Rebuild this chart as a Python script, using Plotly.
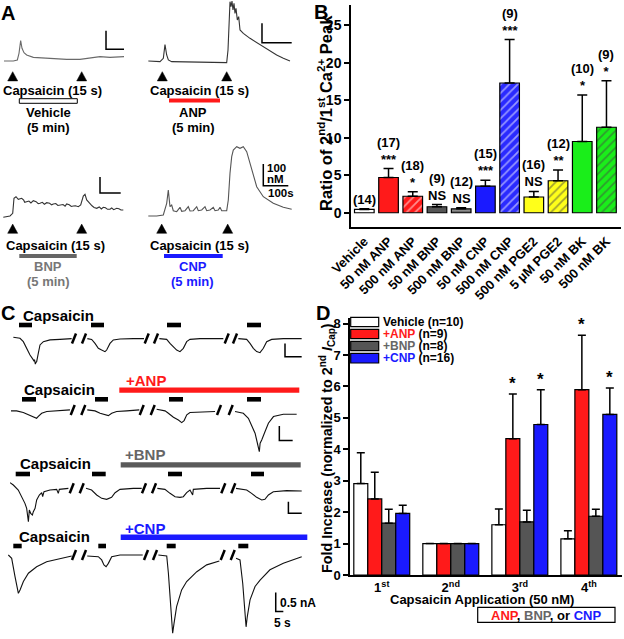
import plotly.graph_objects as go

W, H = 624, 639
FONT = "Arial, 'Liberation Sans', Helvetica, sans-serif"

# ---------------- Panel B data ----------------
b_labels = ["Vehicle", "50 nM ANP", "500 nM ANP", "50 nM BNP", "500 nM BNP", "50 nM CNP",
            "500 nM CNP", "500 nM PGE2", "5 µM PGE2", "50 nM BK", "500 nM BK"]
b_vals = [0.44, 4.7, 2.2, 0.8, 0.53, 3.55, 17.3, 2.1, 4.27, 9.5, 11.4]
b_err = [0.08, 1.2, 0.6, 0.3, 0.14, 0.8, 5.8, 0.75, 1.43, 6.2, 6.2]
b_n = ["(14)", "(17)", "(18)", "(9)", "(12)", "(15)", "(9)", "(16)", "(12)", "(10)", "(9)"]
b_sig = ["", "***", "*", "NS", "NS", "***", "***", "NS", "**", "*", "*"]
b_colors = ["#ffffff", "#ff1a1a", "#ff1a1a", "#555555", "#8c8c8c", "#1a1aff",
            "#2a2aff", "#ffff1a", "#ffff1a", "#1aee1a", "#1aee1a"]
b_hatch = ["", "", "/", "", "-", "", "/", "", "/", "", "/"]
b_hatch_col = ["#000000", "#000000", "#400000", "#000000", "#e6e6e6", "#000000",
               "#ffffff", "#000000", "#303000", "#000000", "#104010"]

# ---------------- Panel D data ----------------
d_ticks = ["1<sup>st</sup>", "2<sup>nd</sup>", "3<sup>rd</sup>", "4<sup>th</sup>"]
d_names = ["Vehicle", "+ANP", "+BNP", "+CNP"]
d_ns = ["(n=10)", "(n=9)", "(n=8)", "(n=16)"]
d_colors = ["#ffffff", "#ff1a1a", "#555555", "#1a1aff"]
d_vehicle = [2.91, 1.0, 1.60, 1.15]
d_vehicle_err = [0.98, 0.0, 0.50, 0.26]
d_anp = [2.42, 1.0, 4.34, 5.90]
d_anp_err = [0.85, 0.0, 1.42, 1.73]
d_bnp = [1.65, 1.0, 1.69, 1.87]
d_bnp_err = [0.44, 0.0, 0.37, 0.22]
d_cnp = [1.96, 1.0, 4.79, 5.11]
d_cnp_err = [0.26, 0.0, 1.11, 0.84]
d_star_anp = ["", "", "*", "*"]
d_star_cnp = ["", "", "*", "*"]

# ---------------- Panel A Ca2+ traces (time s, [Ca2+] nM) ----------------
a_veh_t = [0, 51.9, 74.1, 83.3, 92.6, 100, 111.1, 125.9, 163, 255.6, 348.1, 422.2, 496.3, 533.3, 588.9, 666.7]
a_veh_y = [100, 100, 105.4, 141.2, 209.4, 168.2, 144.9, 132.3, 119.7, 112.6, 109, 109, 119.7, 123.3, 119.7, 123.3]
a_anp_t = [1.1, 40.4, 51.6, 57.2, 62.9, 68.5, 79.7, 130.2, 197.5, 264.9, 269.4, 273.8, 276.1, 279.5, 282.8,
           286.2, 289.6, 292.9, 296.3, 300.8, 305.3, 309.8, 321, 343.4, 365.9, 388.3, 410.8, 433.2, 455.7, 478.1]
a_anp_y = [100, 96.6, 113.7, 184.1, 130.9, 105.2, 96.6, 94.8, 93.1, 91.4, 156.7, 311.2, 405.6, 379.9, 409.1,
           362.7, 397, 345.5, 371.3, 311.2, 328.4, 259.7, 242.5, 216.8, 194.4, 173.8, 153.2, 130.9, 113.7, 100]
a_bnp_t = [1.4, 33.8, 46.9, 53.1, 62.8, 73.9, 90.3, 100, 105, 114.5, 125, 135, 146.4, 160, 170, 178.7, 190, 200,
           211.1, 225, 235, 243, 255, 265, 275.4, 290, 300, 307.7, 320, 330, 339.6, 350, 363.8, 375.4, 387.9,
           396.1, 404.3, 420.3, 430, 440, 452.7, 465, 475, 484.5, 495, 505, 516.9, 525, 535, 549.3, 560, 570, 581.2]
a_bnp_y = [98.1, 106.3, 123.1, 216.9, 226.9, 210.6, 216.9, 205, 192, 195.6, 200, 188, 201.9, 196, 183, 185.6,
           192, 180, 189.4, 186, 176, 181.3, 184, 172, 175, 178, 168, 181.3, 176, 166, 168.8, 170, 164.4, 175,
           231.3, 241.9, 206.3, 181.3, 170, 160, 154.4, 163, 150, 160.6, 158, 148, 148.1, 156, 146, 154.4, 152, 144, 143.8]
a_cnp_t = [1.2, 34.8, 61.2, 68, 74.8, 81.2, 88, 94.8, 101.2, 114.8, 128, 134.8, 148, 161.2, 168, 181.2, 194.8,
           201.2, 214.8, 228, 234.8, 248, 261.2, 268, 281.2, 288, 294.8, 314.8, 321.2, 328, 334.8, 341.2, 354.8,
           368, 381.2, 394.8, 408, 421.2, 434.8, 461.2, 501.2, 541.2, 574.8]
a_cnp_y = [100, 100, 104.6, 127.7, 158.5, 219.9, 142.9, 150.7, 124.4, 119.8, 140.1, 121.7, 124.4, 142.9, 123.1,
           124.4, 142.9, 124.4, 127.7, 142.9, 124.4, 127.7, 140.1, 124.4, 127.7, 140.1, 124.4, 124.4, 173.8,
           296.8, 373.4, 404.3, 419.5, 412.1, 419.5, 396.4, 343, 281.2, 235.1, 189, 158.5, 140.1, 130.9]

# ---------------- Panel C current traces (time s, current nA) ----------------
N = None
c_veh_t = [0, 2, 3, 4, 5, 6, 6.2, 6.35, 6.5, 6.6, 6.8, 7, 7.5, 8, 9, 11, 14, 17.5, N,
           22.2, 23.5, 24.5, 25.5, 26.5, 27.5, 28, 29, 30, 32, 36, 39.2, N,
           43.8, 46, 47, 48, 49, 50, 51, 52, 53, 56, 60, 63, N,
           67.5, 70, 71, 72, 73, 74, 75, 76, 77.5, 81, 86.5]
c_veh_i = [0.04, 0, -0.125, -0.375, -0.625, -0.81, -0.86, -0.80, -0.94, -0.97, -0.90, -0.875, -0.56, -0.25, -0.125, -0.06, -0.04, -0.01, N,
           -0.01, -0.04, -0.19, -0.375, -0.44, -0.5, -0.44, -0.19, -0.06, -0.025, -0.01, -0.01, N,
           -0.01, -0.04, -0.19, -0.31, -0.44, -0.5, -0.375, -0.125, -0.04, -0.01, -0.01, -0.01, N,
           -0.01, -0.04, -0.19, -0.375, -0.5, -0.54, -0.375, -0.125, -0.04, -0.01, -0.01]
c_anp_t = [0, 2.1, 4.6, 6.5, 8.4, 9.6, 10.25, 11.5, 13.4, 17.1, 22.1, N,
           28.6, 31.5, 33.4, 35.25, 36.5, 37.75, 39.6, 43.4, 48.1, N,
           54.6, 57.75, 59, 60.9, 62.75, 64, 64.9, 65.9, 67.1, 70.9, 76.5, N,
           84, 87.1, 89, 90.25, 91.5, 92.1, 92.75, 93.1, 93.4, 94, 95.25, 96.5, 98.4, 102.1, 107.1]
c_anp_i = [0, 0, -0.057, -0.136, -0.19, -0.25, -0.19, -0.08, -0.023, 0, 0.034, N,
           0.034, 0, -0.08, -0.136, -0.16, -0.08, -0.023, 0, 0.034, N,
           0.057, 0, -0.08, -0.216, -0.31, -0.4, -0.33, -0.136, -0.057, -0.034, -0.023, N,
           -0.023, -0.08, -0.25, -0.53, -0.76, -0.99, -1.216, -1.386, -1.1, -0.99, -0.7, -0.42, -0.193, -0.114, -0.114]
c_bnp_t = [0, 1.25, 3.1, 4.4, 5.6, 6.25, 6.9, 7.25, 7.75, 8.4, 8.75, 9.4, 10, 11, 11.9, 12.25, 12.75, 15, 17.5, 18.1, 18.5, 21.9, N,
           28.5, 30.6, 32.5, 34.4, 36.25, 38.1, 39.4, 41.25, 46.25, 49.4, N,
           55.25, 58.1, 60, 61.9, 63.75, 65, 66.25, 67.5, 68.5, 68.75, 73.75, 78.75, N,
           84.75, 88.75, 90.6, 92.5, 94.4, 95.6, 96.9, 98.75, 103.75, 109.4]
c_bnp_i = [0.243, 0.143, -0.071, -0.357, -0.643, -0.857, -1.43, -0.93, -1.07, -1.14, -1.0, -0.857, -0.5, -0.286, -0.186, -0.357, -0.143, -0.071, -0.043, -0.214, -0.043, 0, N,
           0, -0.071, -0.286, -0.429, -0.471, -0.386, -0.186, -0.043, 0, 0, N,
           0, -0.043, -0.214, -0.357, -0.386, -0.357, -0.186, -0.071, -0.286, -0.043, 0, 0, N,
           0, -0.071, -0.214, -0.386, -0.5, -0.471, -0.286, -0.143, -0.1, -0.114]
c_cnp_t = [0, 2.2, 4.4, 5.9, 6.6, 7.7, 9.9, 13.2, 18.6, 25.2, 31.8, 41.7, N,
           51.9, 59.2, 61.4, 62.9, 64.3, 65.8, 68, 73.5, 88.4, N,
           98.7, 104.2, 105.3, 106.4, 107.5, 108.1, 109, 110.7, 114, 117.3, 124, 130.5, 138.8, N,
           149.8, 152.4, 154.2, 155.3, 156.4, 157.2, 159, 162.3, 165.6, 172.1, 180.9, 193]
c_cnp_i = [0, -0.088, -0.57, -0.92, -1.01, -0.92, -0.70, -0.48, -0.31, -0.18, -0.114, -0.026, N,
           -0.026, -0.044, -0.13, -0.26, -0.31, -0.22, -0.044, 0, 0, N,
           0, -0.026, -0.48, -1.18, -1.71, -2.06, -1.80, -1.36, -0.92, -0.70, -0.44, -0.26, -0.158, N,
           -0.088, -0.13, -0.75, -1.36, -1.89, -1.62, -1.18, -0.83, -0.66, -0.39, -0.22, -0.044]


# ---------------- helpers (layout only) ----------------
def PX(x):
    return x / W


def PY(y):
    return 1 - y / H


def dom_x(a, b):
    return [a / W, b / W]


def dom_y(top, bot):
    return [1 - bot / H, 1 - top / H]


def rect(x0, y0, x1, y1, fill, lc=None, lw=0):
    return dict(type="rect", xref="paper", yref="paper", x0=PX(x0), x1=PX(x1), y0=PY(y1), y1=PY(y0),
                fillcolor=fill, line=dict(color=lc or fill, width=lw), layer="above")


def tri(cx, cy):
    return dict(type="path", xref="paper", yref="paper", fillcolor="black", line=dict(color="black", width=0.5),
                path=f"M {PX(cx-5)},{PY(cy+4.6)} L {PX(cx+5)},{PY(cy+4.6)} L {PX(cx)},{PY(cy-4.6)} Z")


def slash(cx, cy):
    return dict(type="line", xref="paper", yref="paper", x0=PX(cx - 2), y0=PY(cy + 5), x1=PX(cx + 2), y1=PY(cy - 5),
                line=dict(color="black", width=2.5))


def txt(x, y, s, size, color="black", xanchor="center", angle=0):
    return dict(x=PX(x), y=PY(y), xref="paper", yref="paper", text=f"<b>{s}</b>", showarrow=False,
                font=dict(size=size, color=color, family=FONT), xanchor=xanchor, yanchor="middle",
                textangle=angle, borderpad=0)


fig = go.Figure()

# ---------------- Panel B bars ----------------
fig.add_trace(go.Bar(
    x=b_labels, y=b_vals, width=0.81, xaxis="x", yaxis="y",
    marker=dict(color=b_colors, line=dict(color="black", width=1.2),
                pattern=dict(shape=b_hatch, fgcolor=b_hatch_col, size=6, solidity=0.3, fillmode="overlay")),
    error_y=dict(type="data", symmetric=False, array=b_err, arrayminus=[0] * len(b_err),
                 color="black", thickness=1.5, width=5),
    showlegend=False))

# ---------------- Panel D bars ----------------
d_series = [(d_vehicle, d_vehicle_err), (d_anp, d_anp_err), (d_bnp, d_bnp_err), (d_cnp, d_cnp_err)]
for (vals, errs), name, col in zip(d_series, d_names, d_colors):
    fig.add_trace(go.Bar(
        x=d_ticks, y=vals, name=name, xaxis="x2", yaxis="y2",
        marker=dict(color=col, line=dict(color="black", width=1.2)),
        error_y=dict(type="data", symmetric=False, array=errs, arrayminus=[0] * len(errs),
                     color="black", thickness=1.5, width=4),
        showlegend=False))

# ---------------- Panel A traces ----------------
a_traces = [
    (a_veh_t, a_veh_y, "#6a6a6a", "3", [566.7, 566.7, 666.7], [263, 163, 163]),
    (a_anp_t, a_anp_y, "#333333", "4", [383.8, 383.8, 483.8], [294, 194, 194]),
    (a_bnp_t, a_bnp_y, "#333333", "5", [468.6, 468.6, 568.6], [350, 250, 250]),
    (a_cnp_t, a_cnp_y, "#555555", "6", [461.2, 461.2, 561.2], [340, 240, 240]),
]
for t, y, col, k, sx, sy in a_traces:
    fig.add_trace(go.Scatter(x=t, y=y, mode="lines", line=dict(color=col, width=1.1),
                             xaxis="x" + k, yaxis="y" + k, showlegend=False))
    fig.add_trace(go.Scatter(x=sx, y=sy, mode="lines", line=dict(color="black", width=1.5),
                             xaxis="x" + k, yaxis="y" + k, showlegend=False))

# ---------------- Panel C traces ----------------
c_traces = [
    (c_veh_t, c_veh_i, "7", [81.5, 81.5, 86.5], [-0.19, -0.69, -0.69]),
    (c_anp_t, c_anp_i, "8", [100.6, 100.6, 105.6], [-0.51, -1.01, -1.01]),
    (c_bnp_t, c_bnp_i, "9", [104.4, 104.4, 109.4], [-0.57, -1.07, -1.07]),
    (c_cnp_t, c_cnp_i, "10", [175.9, 175.9, 180.9], [-0.99, -1.49, -1.49]),
]
for t, y, k, sx, sy in c_traces:
    fig.add_trace(go.Scatter(x=t, y=y, mode="lines", line=dict(color="#111111", width=1.1),
                             xaxis="x" + k, yaxis="y" + k, showlegend=False, connectgaps=False))
    fig.add_trace(go.Scatter(x=sx, y=sy, mode="lines", line=dict(color="black", width=1.5),
                             xaxis="x" + k, yaxis="y" + k, showlegend=False))

# ---------------- axes ----------------
hidden = dict(visible=False, fixedrange=True, showgrid=False, zeroline=False, automargin=False)
layout_axes = dict(
    xaxis=dict(domain=dom_x(351, 621), anchor="y", type="category", range=[-0.55, 10.6], tickangle=-45,
               tickfont=dict(size=13, family=FONT, weight="bold", color="black"), showline=True,
               linecolor="black", linewidth=1.5, ticks="", showgrid=False, zeroline=False, fixedrange=True,
               automargin=False),
    yaxis=dict(domain=dom_y(5, 227), anchor="x", range=[-1.9, 27.7], tickvals=[0, 5, 10, 15, 20, 25],
               ticks="outside", ticklen=5, tickwidth=1.5, tickcolor="black", showline=True, linecolor="black",
               linewidth=1.5, tickfont=dict(size=14, family=FONT, weight="bold", color="black"),
               showgrid=False, zeroline=False, fixedrange=True, automargin=False),
    xaxis2=dict(domain=dom_x(350, 622), anchor="y2", type="category", range=[-0.46, 3.48],
                tickfont=dict(size=13, family=FONT, weight="bold", color="black"), showline=True,
                linecolor="black", linewidth=1.5, ticks="", showgrid=False, zeroline=False, fixedrange=True,
                automargin=False),
    yaxis2=dict(domain=dom_y(318, 575), anchor="x2", range=[0, 8.18], tickvals=list(range(0, 9)),
                ticks="outside", ticklen=5, tickwidth=1.5, tickcolor="black", showline=True, linecolor="black",
                linewidth=1.5, tickfont=dict(size=13, family=FONT, weight="bold", color="black"),
                showgrid=False, zeroline=False, fixedrange=True, automargin=False),
    # Panel A
    xaxis3=dict(domain=dom_x(4, 125), range=[0, 672.2], anchor="y3", **hidden),
    yaxis3=dict(domain=dom_y(25, 66), range=[73.1, 293.7], anchor="x3", **hidden),
    xaxis4=dict(domain=dom_x(148, 293), range=[0, 488.2], anchor="y4", **hidden),
    yaxis4=dict(domain=dom_y(0, 66), range=[74.2, 414.2], anchor="x4", **hidden),
    xaxis5=dict(domain=dom_x(3, 124), range=[0, 584.5], anchor="y5", **hidden),
    yaxis5=dict(domain=dom_y(170, 222), range=[68.75, 393.75], anchor="x5", **hidden),
    xaxis6=dict(domain=dom_x(148, 293), range=[0, 580], anchor="y6", **hidden),
    yaxis6=dict(domain=dom_y(140, 222), range=[72.3, 450.4], anchor="x6", **hidden),
    # Panel C
    xaxis7=dict(domain=dom_x(13, 302), range=[-0.1, 86.6], anchor="y7", **hidden),
    yaxis7=dict(domain=dom_y(335, 366), range=[-1.04, 0.125], anchor="x7", **hidden),
    xaxis8=dict(domain=dom_x(11, 298), range=[0, 107.6], anchor="y8", **hidden),
    yaxis8=dict(domain=dom_y(405, 455), range=[-1.5, 0.2], anchor="x8", **hidden),
    xaxis9=dict(domain=dom_x(10, 302), range=[0, 109.5], anchor="y9", **hidden),
    yaxis9=dict(domain=dom_y(478, 525), range=[-1.571, 0.443], anchor="x9", **hidden),
    xaxis10=dict(domain=dom_x(8, 304), range=[-0.22, 194.5], anchor="y10", **hidden),
    yaxis10=dict(domain=dom_y(545, 637), range=[-2.158, 0.263], anchor="x10", **hidden),
)

# ---------------- shapes ----------------
shapes = []
# Panel A stimulus bars and triangles
shapes.append(rect(19.3, 98.7, 77.3, 103.3, "white", "black", 1))
shapes.append(rect(169, 98.5, 220, 102.5, "#ff1a1a"))
shapes.append(rect(19.3, 254, 76.7, 258, "#666666"))
shapes.append(rect(164, 254, 222.7, 258, "#1a1aff"))
for cx, cy in [(12.7, 76.3), (81.7, 76.3), (162.3, 76.3), (226.7, 76.3),
               (12.7, 228.7), (81.7, 228.7), (161.7, 228.7), (227.7, 228.7)]:
    shapes.append(tri(cx, cy))
# Panel C capsaicin bars
c_caps = [
    (325, [(19, 32), (91, 104), (167, 181), (247, 261)]),
    (399.3, [(22, 36), (95, 108), (169, 183), (247, 261)]),
    (474, [(15.7, 30), (92, 105.7), (168, 182), (251, 264)]),
    (546, [(13.3, 21.7), (98.3, 106), (166.7, 175.7), (238.3, 248.3)]),
]
for yc, bars in c_caps:
    for x0, x1 in bars:
        shapes.append(rect(x0, yc - 2.3, x1, yc + 2.3, "black"))
# Panel C peptide bars
shapes.append(rect(119.3, 387.5, 299.3, 392.8, "#ff1a1a"))
shapes.append(rect(120.7, 462.3, 300.7, 467.6, "#5a5a5a"))
shapes.append(rect(120.7, 534.6, 307.3, 540, "#1a1aff"))
# break marks
for yc, xs in [(338.5, [74, 84, 146.7, 156, 226.7, 235]),
               (410, [72.7, 83.3, 141.7, 152.7, 219, 230.7]),
               (488.3, [71.7, 81.7, 144, 154, 223.3, 233.3]),
               (555, [74, 84, 146, 155, 222.7, 232.7])]:
    for xc in xs:
        shapes.append(slash(xc, yc))
# Panel D legend boxes
for (y0, y1), col in zip([(317.3, 326.7), (329.3, 338.7), (341.3, 350.7), (353.3, 363)], d_colors):
    shapes.append(rect(350.7, y0, 378.7, y1, col, "black", 1.2))
# Panel D bottom label box
shapes.append(rect(477.7, 607.3, 615, 622.3, "rgba(0,0,0,0)", "black", 1.2))

# ---------------- annotations ----------------
ann = []
# panel letters
ann += [txt(8.3, 13.3, "A", 20), txt(320.8, 12.5, "B", 20), txt(7.5, 313, "C", 20), txt(322.5, 313.3, "D", 20)]
# Panel A text
ann += [txt(52.7, 90, "Capsaicin (15 s)", 13), txt(48.3, 112.7, "Vehicle", 13), txt(48.3, 127.7, "(5 min)", 13),
        txt(199.5, 90, "Capsaicin (15 s)", 13), txt(192.7, 112.7, "ANP", 13), txt(193, 127.7, "(5 min)", 13),
        txt(55.5, 245, "Capsaicin (15 s)", 13), txt(48.3, 266.7, "BNP", 13, "#777777"),
        txt(48.3, 281.7, "(5 min)", 13, "#777777"),
        txt(199, 245, "Capsaicin (15 s)", 13), txt(192.7, 266.7, "CNP", 13, "#1a1aff"),
        txt(192.7, 281.7, "(5 min)", 13, "#1a1aff"),
        txt(276.7, 168.3, "100", 11.5), txt(275.8, 179.5, "nM", 11.5), txt(281.3, 193.3, "100s", 11.5)]
# Panel C text
ann += [txt(58.3, 315, "Capsaicin", 15), txt(59, 389.3, "Capsaicin", 15), txt(55, 463.3, "Capsaicin", 15),
        txt(54.3, 536.7, "Capsaicin", 15),
        txt(146.4, 380, "+ANP", 15, "#ff1a1a"), txt(145, 455, "+BNP", 15, "#666666"),
        txt(145, 528.3, "+CNP", 15, "#1a1aff"),
        txt(279.3, 602.7, "0.5 nA", 12, xanchor="left"), txt(282.5, 622.7, "5 s", 12)]
# Panel B labels above bars
for lab, v, e, n, s in zip(b_labels, b_vals, b_err, b_n, b_sig):
    t = f"<b>{n}</b>" + (f"<br><b>{s}</b>" if s else "")
    ann.append(dict(x=lab, y=v + e, xref="x", yref="y", text=t, showarrow=False, yanchor="bottom",
                    font=dict(size=13, family=FONT, color="black"), yshift=1, borderpad=0))
ann.append(txt(325, 113, "Ratio of 2<sup>nd</sup>/1<sup>st</sup> Ca<sup>2+</sup> Peak", 16.5, angle=-90))
# Panel D stars
bargap = 0.19
bw = (1 - bargap) / 4
for idx, (sa, sc) in enumerate(zip(d_star_anp, d_star_cnp)):
    if sa:
        ann.append(dict(x=idx - (1 - bargap) / 2 + 1.5 * bw, y=d_anp[idx] + d_anp_err[idx], xref="x2", yref="y2",
                        text="<b>*</b>", showarrow=False, yanchor="bottom", borderpad=0,
                        font=dict(size=17, family=FONT, color="black")))
    if sc:
        ann.append(dict(x=idx - (1 - bargap) / 2 + 3.5 * bw, y=d_cnp[idx] + d_cnp_err[idx], xref="x2", yref="y2",
                        text="<b>*</b>", showarrow=False, yanchor="bottom", borderpad=0,
                        font=dict(size=17, family=FONT, color="black")))
# Panel D legend text
legend_cols = ["black", "#ff1a1a", "#666666", "#1a1aff"]
for yc, name, n, col in zip([322, 334, 346, 358.3], d_names, d_ns, legend_cols):
    ann.append(txt(381.7, yc, f"<span style='color:{col}'>{name}</span> {n}", 12, xanchor="left"))
ann.append(txt(327, 448, "Fold Increase (normalized to 2<sup>nd</sup> <i>I</i><sub>Cap</sub>)", 14.3, angle=-90))
ann.append(txt(482, 599, "Capsaicin Application (50 nM)", 13))
ann.append(txt(546.3, 615, "<span style='color:#ff1a1a'>ANP</span>, <span style='color:#666666'>BNP</span>, "
                           "or <span style='color:#1a1aff'>CNP</span>", 13))

fig.update_layout(
    template="none",
    width=W, height=H, margin=dict(l=0, r=0, t=0, b=0, pad=0), autosize=False,
    paper_bgcolor="white", plot_bgcolor="white",
    font=dict(family=FONT, color="black"),
    barmode="group", bargap=bargap, bargroupgap=0,
    shapes=shapes, annotations=ann, showlegend=False,
    **layout_axes)

fig.write_html("out.html", config={"displayModeBar": False},
               post_script="document.body.style.margin='0px';document.body.style.padding='0px';")
